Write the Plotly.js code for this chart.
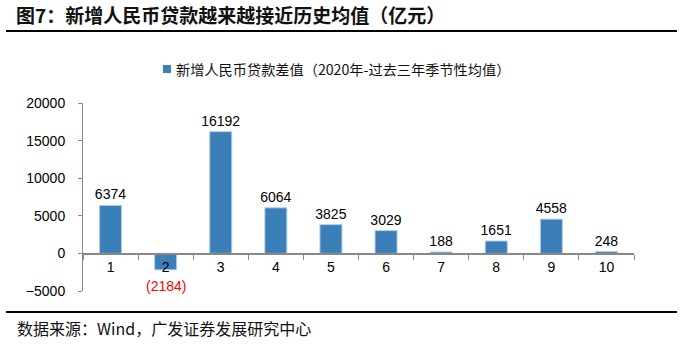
<!DOCTYPE html>
<html>
<head>
<meta charset="utf-8">
<script src="https://cdn.plot.ly/plotly-3.0.1.min.js"></script>
<style>html,body{margin:0;padding:0;background:#fff;}#chart{width:693px;height:352px;}</style>
</head>
<body>
<div id="chart"></div>
<script>
const categories = ['1','2','3','4','5','6','7','8','9','10'];
const values = [6374, -2184, 16192, 6064, 3825, 3029, 188, 1651, 4558, 248];
const seriesName = '新增人民币贷款差值（2020年-过去三年季节性均值）';
const titleText = '图7：新增人民币贷款越来越接近历史均值（亿元）';
const sourceText = '数据来源：Wind，广发证券发展研究中心';

const cjk = '"Noto Sans CJK SC", "Liberation Sans", sans-serif';
const latin = '"Liberation Sans", Arial, sans-serif';
const barColor = '#3A7FB8';

// plot area in px
const L = 83, R = 634, T = 103, B = 291, W = 693, H = 352;
const px2x = p => (p - L) / (R - L);
const px2y = p => (B - p) / (B - T);

const posText = values.map(v => v >= 0 ? String(v) : '');
const negAnnotations = [];
categories.forEach((c, i) => {
  if (values[i] < 0) {
    negAnnotations.push({
      x: i, y: values[i], xref: 'x', yref: 'y',
      text: '(' + Math.abs(values[i]) + ')', showarrow: false,
      yanchor: 'top', yshift: -6,
      font: {family: latin, size: 14, color: '#FF0000'}
    });
  }
});

const trace = {
  type: 'bar',
  x: categories,
  y: values,
  name: seriesName,
  text: posText,
  textposition: 'outside',
  constraintext: 'none',
  textfont: {family: latin, size: 14, color: '#000'},
  cliponaxis: false,
  marker: {color: barColor, line: {color: '#B7CDE3', width: 1}},
  width: 0.4,
  showlegend: false
};

const layout = {
  width: W, height: H,
  margin: {l: L, r: W - R, t: T, b: H - B},
  paper_bgcolor: '#fff', plot_bgcolor: '#fff',
  uniformtext: {mode: 'show', minsize: 14},
  title: {
    text: '<b>' + titleText + '</b>',
    x: 16 / W, xanchor: 'left', xref: 'container',
    y: 1 - 16 / H, yanchor: 'middle', yref: 'container',
    font: {family: cjk, size: 19, color: '#111'}
  },
  showlegend: false,
  xaxis: {
    type: 'category',
    anchor: 'free', position: 0.2,
    tickson: 'boundaries', ticks: 'outside', ticklen: 5, tickcolor: '#888',
    showline: true, linecolor: '#888', linewidth: 1.5,
    showgrid: false, zeroline: false,
    tickfont: {family: latin, size: 14, color: '#000'},
    fixedrange: true
  },
  yaxis: {
    range: [-5000, 20000], dtick: 5000, tick0: 0, tickformat: 'd',
    showline: true, linecolor: '#888', linewidth: 1,
    ticks: 'outside', ticklen: 4, tickcolor: '#888',
    showgrid: false, zeroline: false,
    tickfont: {family: latin, size: 14, color: '#000'},
    ticklabelstandoff: 10,
    fixedrange: true
  },
  shapes: [
    {type: 'line', xref: 'paper', yref: 'paper', x0: px2x(6), x1: px2x(677), y0: px2y(31), y1: px2y(31), line: {color: '#000', width: 2}},
    {type: 'line', xref: 'paper', yref: 'paper', x0: px2x(6), x1: px2x(677), y0: px2y(312), y1: px2y(312), line: {color: '#000', width: 2}},
    {type: 'rect', xref: 'paper', yref: 'paper', x0: px2x(163), x1: px2x(171), y0: px2y(65), y1: px2y(73), fillcolor: barColor, line: {width: 0}}
  ],
  annotations: negAnnotations.concat([
    {
      xref: 'paper', yref: 'paper', x: px2x(174), y: px2y(69), xanchor: 'left', yanchor: 'middle',
      text: seriesName, showarrow: false,
      font: {family: cjk, size: 14.2, color: '#111'}
    },
    {
      xref: 'paper', yref: 'paper', x: px2x(15), y: px2y(328), xanchor: 'left', yanchor: 'middle',
      text: sourceText, showarrow: false,
      font: {family: cjk, size: 16, color: '#111'}
    }
  ])
};

Plotly.newPlot('chart', [trace], layout, {displayModeBar: false, staticPlot: true});
</script>
</body>
</html>
